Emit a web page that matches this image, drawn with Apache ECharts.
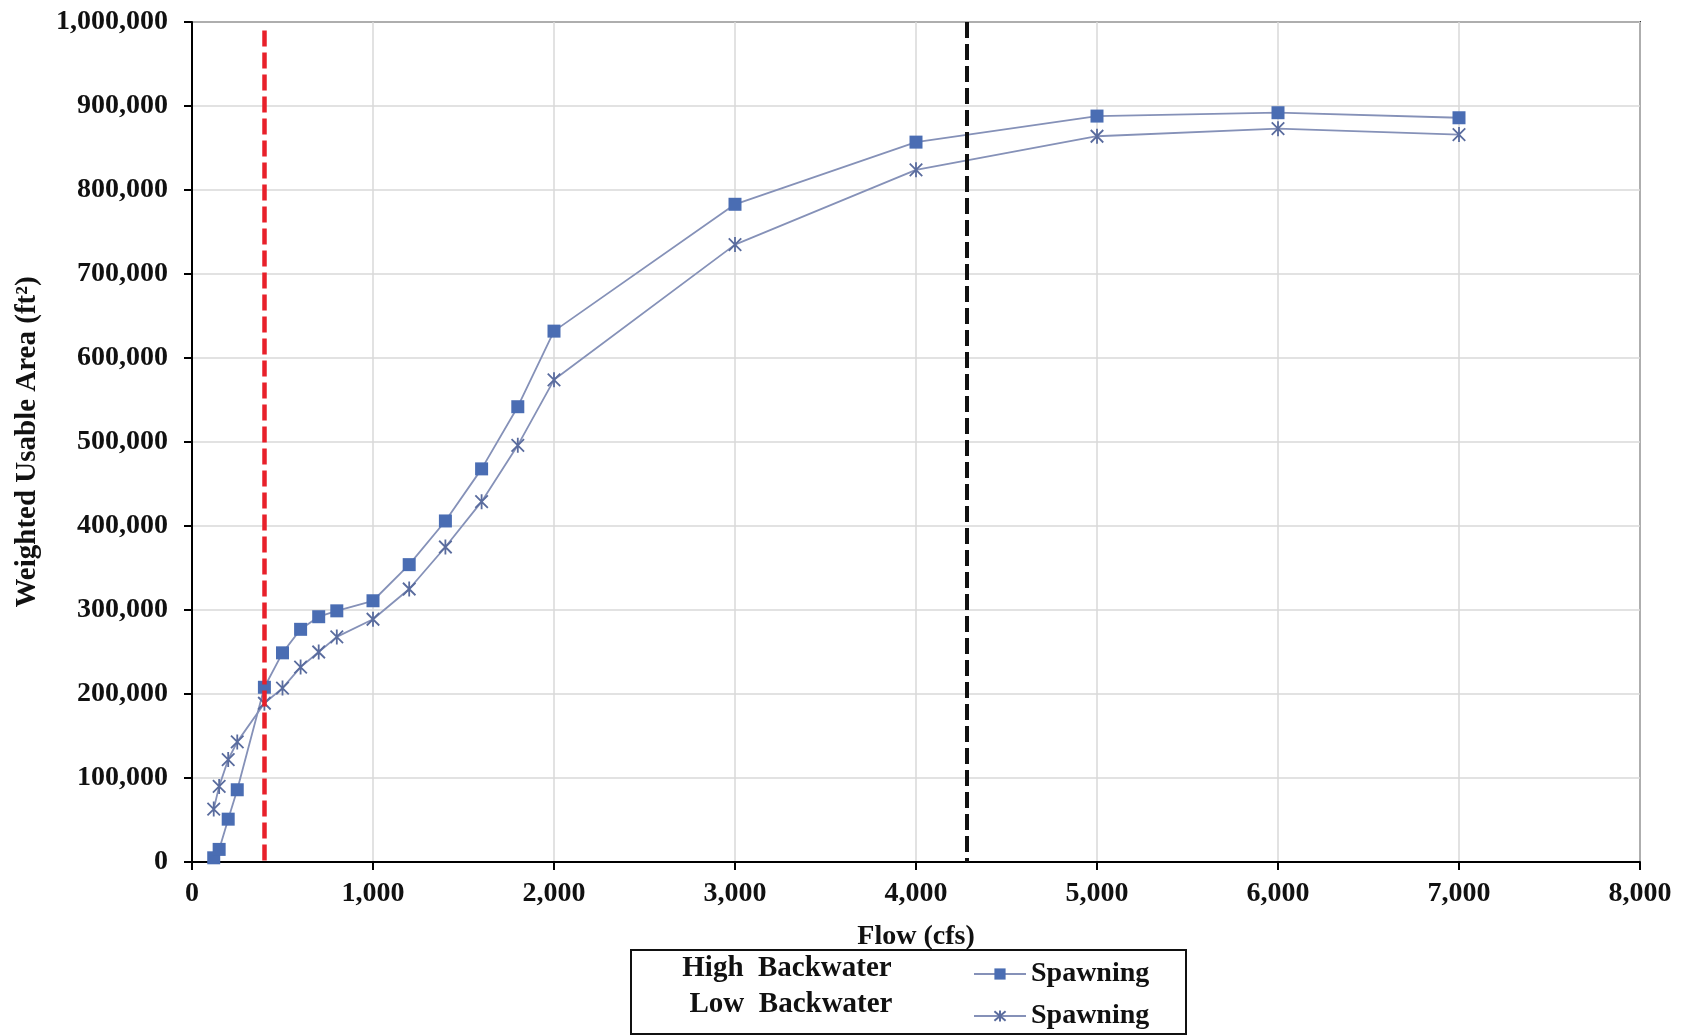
<!DOCTYPE html>
<html>
<head>
<meta charset="utf-8">
<title>Weighted Usable Area vs Flow</title>
<script src="https://cdn.jsdelivr.net/npm/echarts@6/dist/echarts.min.js"></script>
<style>
  html, body { margin: 0; padding: 0; background: #fff; }
  #chart { width: 1690px; height: 1036px; }
</style>
</head>
<body>
<div id="chart"></div>
<script>
// flows (cfs) and weighted usable area (ft2)
const flows = [120, 150, 200, 250, 400, 500, 600, 700, 800, 1000, 1200, 1400, 1600, 1800, 2000, 3000, 4000, 5000, 6000, 7000];
const highBackwater = [5000, 15000, 51000, 86000, 208000, 249000, 277000, 292000, 299000, 311000, 354000, 406000, 468000, 542000, 632000, 783000, 857000, 888000, 892000, 886000];
const lowBackwater = [63000, 90000, 122000, 143000, 189000, 207000, 232000, 250000, 268000, 289000, 325000, 375000, 429000, 496000, 574000, 735000, 824000, 864000, 873000, 866000];

// reference flows shown as dashed verticals
const redLineFlow = 400;
const blackLineFlow = 4280;

const legendGroups = ["High  Backwater", "Low  Backwater"];
const legendLabel = "Spawning";

const FONT = "Liberation Serif";
const lineColor = "#8591b8";
const squareColor = "#4a6db3";
const starColor = "#5a6c9e";

const fmt = (v) => Number(v).toLocaleString("en-US");

const chart = echarts.init(document.getElementById("chart"));

const option = {
  backgroundColor: "#fff",
  animation: false,
  grid: {
    left: 192,
    right: 50,
    top: 22,
    bottom: 174,
    show: true,
    borderColor: "#333",
    borderWidth: 2,
  },
  xAxis: {
    type: "value",
    min: 0,
    max: 8000,
    interval: 1000,
    name: "Flow (cfs)",
    nameLocation: "middle",
    nameGap: 61,
    nameTextStyle: { fontFamily: FONT, fontWeight: "bold", fontSize: 28, color: "#111" },
    axisLine: { show: true, onZero: false, lineStyle: { color: "#000", width: 2 } },
    axisTick: { show: true, length: 8, lineStyle: { color: "#000", width: 2 } },
    axisLabel: { formatter: fmt, margin: 18, fontFamily: FONT, fontWeight: "bold", fontSize: 28, color: "#111" },
    splitLine: { show: true, lineStyle: { color: "#d9d9d9", width: 1.5 } },
  },
  yAxis: {
    type: "value",
    min: 0,
    max: 1000000,
    interval: 100000,
    name: "Weighted Usable Area (ft²)",
    nameLocation: "middle",
    nameGap: 150,
    nameTextStyle: { fontFamily: FONT, fontWeight: "bold", fontSize: 29, color: "#111" },
    axisLine: { show: true, onZero: false, lineStyle: { color: "#000", width: 2 } },
    axisTick: { show: true, length: 8, lineStyle: { color: "#000", width: 2 } },
    axisLabel: { formatter: fmt, margin: 24, fontFamily: FONT, fontWeight: "bold", fontSize: 28, color: "#111" },
    splitLine: { show: true, lineStyle: { color: "#d9d9d9", width: 1.5 } },
  },
  legend: {
    orient: "vertical",
    left: 968,
    top: 955,
    itemWidth: 52,
    itemHeight: 14,
    itemGap: 14,
    formatter: () => legendLabel,
    textStyle: { fontFamily: FONT, fontWeight: "bold", fontSize: 28, color: "#111" },
    data: ["High Backwater Spawning", "Low Backwater Spawning"],
  },
  graphic: [
    {
      type: "rect",
      shape: { x: 631, y: 950, width: 555, height: 84 },
      style: { fill: "none", stroke: "#111", lineWidth: 2 },
    },
    {
      type: "text",
      x: 787,
      y: 969,
      style: { text: legendGroups[0], font: "bold 29px " + FONT, fill: "#111", textAlign: "center", textVerticalAlign: "middle" },
    },
    {
      type: "text",
      x: 791,
      y: 1005,
      style: { text: legendGroups[1], font: "bold 29px " + FONT, fill: "#111", textAlign: "center", textVerticalAlign: "middle" },
    },
  ],
  series: [
    {
      name: "High Backwater Spawning",
      type: "line",
      data: flows.map((f, i) => [f, highBackwater[i]]),
      symbol: "rect",
      symbolSize: 13,
      lineStyle: { color: lineColor, width: 1.8 },
      itemStyle: { color: squareColor },
      z: 3,
      markLine: {
        silent: true,
        symbol: "none",
        label: { show: false },
        data: [
          [
            { coord: [redLineFlow, 990000], lineStyle: { color: "#e8202a", width: 4.5, type: [16, 6] } },
            { coord: [redLineFlow, 0] },
          ],
          [
            { coord: [blackLineFlow, 1000000], lineStyle: { color: "#111", width: 4, type: [16, 6] } },
            { coord: [blackLineFlow, 0] },
          ],
        ],
      },
    },
    {
      name: "Low Backwater Spawning",
      type: "line",
      data: flows.map((f, i) => [f, lowBackwater[i]]),
      symbol: "path://M0,0L10,10M10,0L0,10M5,-1L5,11",
      symbolSize: 15,
      symbolKeepAspect: true,
      lineStyle: { color: lineColor, width: 1.8 },
      itemStyle: { color: starColor, borderColor: starColor, borderWidth: 1.8 },
      z: 3,
    },
  ],
};

chart.setOption(option);
</script>
</body>
</html>
